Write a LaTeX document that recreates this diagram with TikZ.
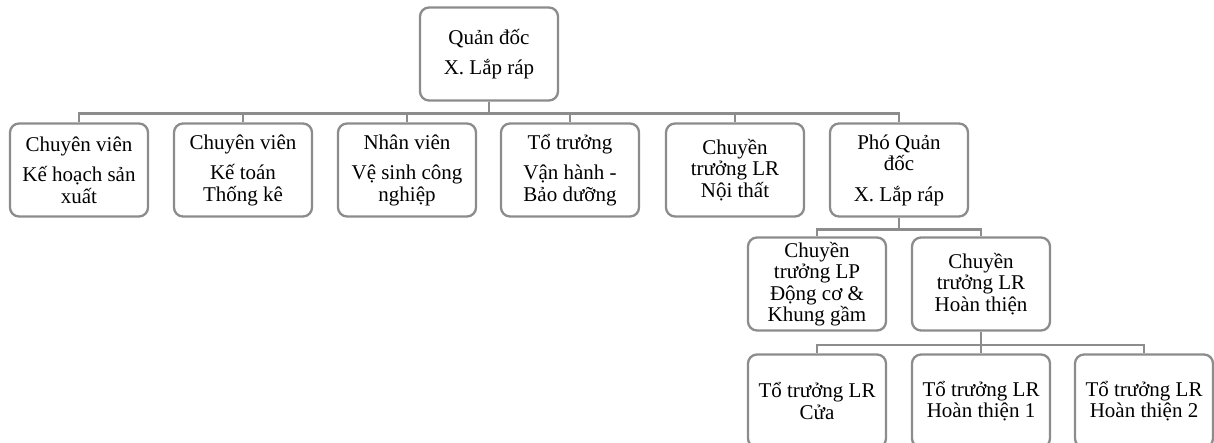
\documentclass[tikz,border=0pt]{standalone}
\usepackage{fontspec}
\setmainfont{Liberation Serif}
\definecolor{boxgray}{RGB}{140,140,140}
\begin{document}
\begin{tikzpicture}[x=1pt,y=-1pt,
  box/.style={draw=boxgray, line width=2.3pt, rounded corners=9pt, fill=white,
    align=center, inner sep=0pt, minimum width=138pt, minimum height=93pt,
    font=\fontsize{21}{21.5}\selectfont},
  conn/.style={draw=boxgray, line width=2.3pt}]
\useasboundingbox (0,0) rectangle (1214,443);
\begin{scope}
\clip (0,0) rectangle (1214,443);
\node[box] (top) at (489,54) {Quản đốc\\[9pt]X. Lắp ráp};
\node[box] (a1) at (79,170) {Chuyên viên\\[9pt]Kế hoạch sản\\xuất};
\node[box] (a2) at (243,170) {Chuyên viên\\[9pt]Kế toán\\Thống kê};
\node[box] (a3) at (407,170) {Nhân viên\\[9pt]Vệ sinh công\\nghiệp};
\node[box] (a4) at (570,170) {Tổ trưởng\\[9pt]Vận hành -\\Bảo dưỡng};
\node[box] (a5) at (735,170) {Chuyền\\trưởng LR\\Nội thất};
\node[box] (a6) at (899,170) {Phó Quản\\đốc\\[9pt]X. Lắp ráp};
\node[box] (b1) at (817,284) {Chuyền\\trưởng LP\\Động cơ \&\\Khung gầm};
\node[box] (b2) at (981,284) {Chuyền\\trưởng LR\\Hoàn thiện};
\node[box] (c1) at (817,401) {Tổ trưởng LR\\Cửa};
\node[box] (c2) at (981,401) {Tổ trưởng LR\\Hoàn thiện 1};
\node[box] (c3) at (1144,401) {Tổ trưởng LR\\Hoàn thiện 2};
\foreach \c in {a1,a2,a3,a4,a5,a6}
  \draw[conn] (top.south) -- ++(0,12) -| (\c.north);
\foreach \c in {b1,b2}
  \draw[conn] (a6.south) -- ++(0,12) -| (\c.north);
\foreach \c in {c1,c2,c3}
  \draw[conn] (b2.south) -- ++(0,13) -| (\c.north);
\end{scope}
\end{tikzpicture}
\end{document}
